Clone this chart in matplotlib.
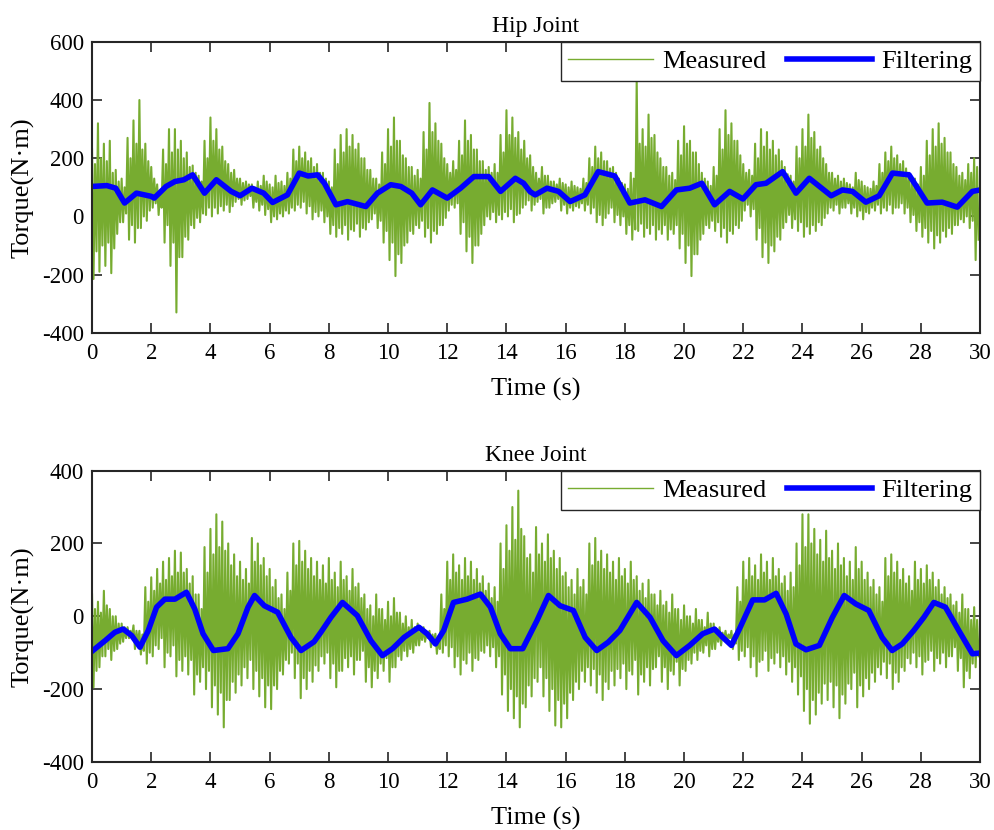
import numpy as np
import matplotlib
matplotlib.use('Agg')
import matplotlib.pyplot as plt

plt.rcParams['font.family'] = ['Liberation Serif', 'DejaVu Serif']
plt.rcParams['axes.unicode_minus'] = False

# measured torque, outer peak / trough per 0.2 s bin
hip_hi = [230, 320, 250, 260, 160, 130, 270, 330, 400, 250,
          170, 110, 230, 300, 300, 260, 220, 175, 140, 260,
          340, 300, 240, 180, 160, 130, 120, 110, 120, 140,
          110, 140, 120, 150, 230, 240, 220, 200, 180, 150,
          120, 230, 280, 300, 280, 250, 200, 160, 130, 220,
          300, 340, 260, 200, 170, 160, 290, 390, 320, 250,
          180, 190, 260, 330, 280, 230, 190, 170, 180, 280,
          365, 340, 290, 260, 210, 150, 170, 140, 120, 130,
          110, 120, 100, 130, 200, 240, 220, 190, 170, 130,
          110, 150, 470, 300, 350, 280, 200, 170, 150, 260,
          310, 260, 220, 150, 120, 170, 300, 365, 320, 260,
          180, 160, 250, 300, 290, 260, 230, 170, 140, 240,
          300, 350, 290, 240, 180, 150, 140, 130, 110, 150,
          120, 100, 120, 180, 220, 240, 210, 190, 150, 130,
          170, 260, 300, 320, 270, 220, 170, 150, 180, 200]
hip_lo = [-215, -190, -170, -195, -60, -20, -80, -90, -40, -15,
          30, 5, -90, -170, -330, -140, -80, -40, -20, 5,
          0, 10, 20, 15, 50, 40, 60, 30, 20, 5,
          -20, -10, 0, 10, 20, 30, 10, -10, 0, -20,
          -60, -70, -60, -80, -50, -70, -45, -10, -40, -90,
          -150, -205, -160, -90, -60, -40, -70, -90, -60, -30,
          20, 30, -60, -120, -160, -100, -30, -10, -20, -10,
          0, -20, 10, 40, 20, 50, 10, 30, 50, 20,
          10, 20, 30, 20, 10, -20, -30, 10, -20, -30,
          -60, -80, -50, -70, -60, -80, -60, -80, -60, -110,
          -160, -205, -130, -60, -40, -50, -70, -90, -60, -40,
          20, 0, -80, -140, -160, -120, -80, -20, -40, -50,
          -70, -60, -50, -30, 10, 20, 10, 30, 10, 0,
          -10, 10, 20, 10, 20, 10, 30, 10, -20, -50,
          -70, -90, -110, -90, -70, -60, -30, -20, -40, -150]

# dense core of the measured trace, peak / trough per 0.2 s bin
hip_hi2 = [180, 200, 190, 150, 120, 100, 200, 250, 230, 190,
           130, 90, 180, 220, 230, 200, 170, 150, 120, 200,
           260, 230, 190, 150, 130, 115, 110, 100, 105, 120,
           100, 115, 105, 130, 190, 200, 190, 170, 150, 130,
           100, 180, 220, 240, 230, 200, 160, 130, 110, 180,
           240, 260, 210, 170, 140, 130, 230, 290, 260, 200,
           150, 160, 210, 260, 230, 190, 160, 150, 150, 220,
           280, 270, 230, 200, 170, 130, 140, 120, 110, 115,
           100, 105, 95, 115, 170, 200, 190, 165, 150, 115,
           95, 130, 250, 240, 270, 220, 170, 140, 125, 210,
           250, 220, 180, 130, 105, 140, 230, 280, 260, 210,
           150, 140, 200, 240, 230, 210, 190, 145, 120, 200,
           240, 270, 230, 200, 150, 130, 120, 115, 100, 125,
           105, 95, 105, 150, 190, 200, 180, 165, 130, 110,
           140, 210, 240, 250, 220, 180, 140, 125, 150, 170]
hip_lo2 = [-120, -100, -90, -110, -20, 10, -30, -40, 0, 20,
           45, 30, -30, -90, -140, -70, -30, -5, 10, 30,
           30, 35, 40, 35, 60, 55, 70, 50, 40, 25,
           0, 10, 20, 30, 40, 50, 35, 15, 20, 0,
           -30, -40, -30, -45, -25, -40, -20, 10, -15, -50,
           -90, -130, -100, -50, -30, -15, -40, -50, -30, -5,
           40, 45, -20, -70, -100, -60, 0, 15, 5, 15,
           25, 5, 30, 55, 40, 60, 30, 45, 60, 40,
           30, 35, 45, 40, 30, 5, -5, 30, 5, 0,
           -30, -45, -25, -40, -30, -45, -30, -45, -30, -60,
           -100, -130, -80, -30, -15, -20, -40, -50, -30, -15,
           40, 25, -40, -90, -100, -70, -40, 5, -10, -20,
           -35, -30, -20, -5, 30, 40, 30, 45, 30, 20,
           15, 30, 40, 30, 40, 30, 45, 30, 5, -20,
           -40, -50, -65, -50, -40, -30, -10, 0, -15, -80]

knee_hi = [60, 40, 70, 20, 0, -20, -30, -25, -40, 80,
           107, 130, 150, 160, 180, 175, 130, 110, 60, 190,
           240, 280, 260, 200, 170, 150, 130, 215, 200, 160,
           130, 100, 60, 120, 200, 207, 180, 160, 150, 140,
           160, 120, 150, 110, 130, 90, 60, 30, 60, 20,
           40, 50, 10, 0, -10, -20, -30, -40, -48, 60,
           150, 170, 140, 160, 150, 130, 110, 90, 80, 200,
           250, 300, 345, 220, 170, 245, 200, 225, 180, 160,
           120, 100, 130, 100, 200, 215, 180, 170, 150, 160,
           130, 150, 110, 90, 100, 60, 70, 40, 60, 20,
           30, 0, 20, -10, 10, -20, -30, -40, -40, 80,
           150, 160, 140, 170, 150, 160, 130, 110, 120, 200,
           280, 280, 240, 210, 235, 180, 200, 160, 150, 190,
           150, 120, 100, 80, 160, 170, 150, 130, 110, 150,
           130, 140, 120, 100, 80, 60, 40, 60, 20, 25]
knee_lo = [-195, -140, -110, -120, -90, -70, -60, -90, -105, -130,
           -110, -90, -140, -110, -165, -150, -160, -215, -180, -200,
           -250, -270, -305, -230, -210, -190, -170, -200, -220, -250,
           -255, -200, -160, -130, -170, -225, -200, -180, -150, -130,
           -170, -195, -150, -140, -160, -120, -180, -195, -170, -150,
           -180, -140, -120, -110, -100, -80, -70, -85, -103, -100,
           -110, -140, -160, -130, -150, -120, -100, -110, -140, -215,
           -260, -280, -305, -250, -220, -180, -220, -260, -300, -305,
           -280, -230, -200, -180, -190, -210, -230, -200, -190, -170,
           -200, -160, -215, -180, -190, -140, -180, -200, -160, -190,
           -150, -130, -120, -100, -110, -90, -80, -70, -90, -120,
           -110, -140, -165, -120, -150, -130, -140, -160, -180, -215,
           -260, -295, -270, -240, -230, -250, -280, -240, -200, -250,
           -220, -200, -180, -160, -170, -200, -180, -150, -130, -140,
           -160, -120, -150, -130, -140, -110, -150, -195, -170, -140]

knee_hi2 = [20, 10, 30, 0, -20, -30, -40, -40, -50, 40,
            70, 90, 100, 110, 120, 120, 90, 60, 20, 120,
            170, 190, 180, 140, 110, 100, 90, 150, 140, 110,
            80, 50, 20, 70, 140, 150, 130, 110, 100, 90,
            100, 80, 100, 70, 80, 50, 20, 0, 20, -10,
            0, 10, -20, -30, -30, -40, -45, -50, -55, 20,
            100, 120, 100, 110, 100, 90, 70, 50, 40, 130,
            180, 210, 240, 160, 120, 170, 150, 160, 130, 110,
            80, 60, 80, 60, 140, 150, 130, 120, 100, 110,
            90, 100, 70, 50, 60, 30, 30, 10, 20, -10,
            0, -20, -10, -30, -20, -35, -45, -50, -50, 40,
            100, 110, 100, 120, 100, 110, 90, 70, 80, 140,
            190, 200, 170, 150, 160, 130, 140, 110, 100, 130,
            100, 80, 60, 40, 110, 120, 100, 90, 70, 100,
            90, 100, 80, 60, 50, 30, 10, 20, -10, -10]
knee_lo2 = [-150, -110, -90, -95, -75, -60, -55, -75, -95, -100,
            -80, -60, -100, -80, -120, -110, -120, -160, -140, -150,
            -190, -210, -230, -180, -160, -140, -120, -150, -170, -190,
            -190, -150, -120, -100, -130, -170, -150, -135, -110, -100,
            -130, -150, -115, -110, -120, -95, -140, -150, -130, -115,
            -140, -110, -95, -90, -80, -65, -60, -70, -90, -80,
            -85, -110, -120, -100, -115, -95, -80, -85, -110, -160,
            -200, -220, -240, -190, -170, -140, -170, -200, -230, -240,
            -210, -180, -150, -140, -145, -160, -180, -150, -145, -130,
            -150, -120, -160, -140, -145, -110, -140, -150, -125, -145,
            -120, -100, -95, -80, -90, -70, -65, -60, -75, -95,
            -85, -110, -125, -95, -115, -100, -110, -125, -140, -165,
            -200, -230, -210, -185, -180, -190, -215, -185, -155, -190,
            -170, -155, -140, -125, -130, -155, -140, -115, -100, -110,
            -125, -95, -115, -100, -110, -85, -115, -150, -130, -110]

# filtered torque (time, value)
hip_f_t = [0, 0.5, 0.8, 1.1, 1.5, 2.0, 2.1, 2.5, 2.8, 3.1, 3.4, 3.8, 4.2, 4.7,
           5.0, 5.4, 5.8, 6.1, 6.6, 7.0, 7.3, 7.62, 7.85, 8.24, 8.63, 9.25,
           9.64, 10.09, 10.43, 10.8, 11.1, 11.5, 12.0, 12.45, 12.9, 13.4, 13.8,
           14.3, 14.58, 14.8, 14.97, 15.37, 15.76, 16.15, 16.65, 17.1, 17.66,
           18.17, 18.68, 19.24, 19.74, 20.19, 20.6, 21.03, 21.54, 21.99, 22.43,
           22.77, 23.33, 23.78, 24.23, 24.97, 25.35, 25.69, 26.14, 26.59, 27.04,
           27.6, 28.21, 28.72, 29.23, 29.74, 30]
hip_f = [103, 106, 97, 46, 80, 69, 63, 103, 120, 126, 143, 80, 126, 86,
         71, 97, 80, 48, 74, 149, 139, 143, 114, 40, 51, 34,
         80, 109, 103, 80, 40, 91, 63, 97, 137, 137, 86,
         131, 114, 85, 74, 97, 86, 51, 74, 154, 139,
         46, 57, 34, 91, 97, 114, 40, 86, 60, 109,
         114, 154, 80, 131, 71, 91, 86, 49, 71, 149,
         143, 46, 49, 32, 86, 91]

knee_f_t = [0, 0.44, 0.77, 1.05, 1.34, 1.62, 1.9, 2.18, 2.46, 2.8, 3.19, 3.47,
            3.75, 4.1, 4.59, 4.93, 5.27, 5.49, 5.82, 6.27, 6.72, 7.06, 7.5,
            7.73, 8.07, 8.46, 8.96, 9.42, 9.81, 10.15, 10.54, 11.04, 11.32,
            11.6, 11.88, 12.21, 12.67, 13.12, 13.46, 13.79, 14.13, 14.55,
            15.03, 15.42, 15.81, 16.26, 16.66, 17.05, 17.44, 17.83, 18.4,
            18.85, 19.29, 19.74, 20.19, 20.63, 21.03, 21.31, 21.6, 21.87,
            22.32, 22.72, 23.11, 23.45, 23.78, 24.12, 24.57, 25.01, 25.41,
            25.8, 26.24, 26.69, 27.03, 27.37, 27.76, 28.1, 28.44, 28.83,
            29.28, 29.74, 30]
knee_f = [-96, -67, -44, -35, -53, -85, -39, 25, 47, 47, 66, 20,
          -48, -94, -89, -48, 25, 57, 29, 11, -58, -94, -70,
          -44, -3, 38, 2, -67, -108, -89, -58, -30, -48,
          -76, -39, 38, 47, 61, 25, -48, -89, -89,
          -12, 57, 29, 16, -58, -94, -71, -39, 38,
          -3, -67, -108, -80, -48, -35, -58, -80, -35,
          45, 45, 63, 6, -76, -92, -80, -3, 57,
          34, 16, -58, -94, -76, -39, -3, 38, 25,
          -39, -103, -101]

bin_t = np.arange(150) * 0.2

green = '#77AC30'
axc = '#262626'

fig = plt.figure(figsize=(9.95, 8.3), dpi=100)
ax1 = fig.add_axes([0.0925, 0.599, 0.8925, 0.3506])
ax2 = fig.add_axes([0.0925, 0.082, 0.8925, 0.351])

panels = [
    (ax1, hip_hi, hip_lo, hip_hi2, hip_lo2, hip_f_t, hip_f, 'Hip Joint',
     (-400, 600), np.arange(-400, 601, 200)),
    (ax2, knee_hi, knee_lo, knee_hi2, knee_lo2, knee_f_t, knee_f, 'Knee Joint',
     (-400, 400), np.arange(-400, 401, 200)),
]

for ax, hi, lo, hi2, lo2, ft, fv, title, ylim, yticks in panels:
    # interleave outer and core extremes of each bin into one measured trace
    mt = np.column_stack([bin_t, bin_t + 0.05, bin_t + 0.1, bin_t + 0.15]).ravel()
    mv = np.column_stack([hi, lo, hi2, lo2]).ravel()
    ax.plot(mt, mv, color=green, lw=1.5, label='Measured')
    ax.plot(ft, fv, color='blue', lw=4, label='Filtering', solid_joinstyle='round')
    ax.set_xlim(0, 30)
    ax.set_ylim(*ylim)
    ax.set_xticks(np.arange(0, 31, 2))
    ax.set_yticks(yticks)
    ax.tick_params(direction='in', length=7.5, width=1.2, labelsize=16.5, pad=7,
                   top=True, right=True, colors=axc, labelcolor='black')
    ax.tick_params(axis='y', pad=6)
    for s in ax.spines.values():
        s.set_linewidth(1.5)
        s.set_color(axc)
    ax.set_title(title, fontsize=17, pad=7)
    ax.set_xlabel('Time (s)', fontsize=19, labelpad=10)
    ax.set_ylabel('Torque(N·m)', fontsize=19, labelpad=5)
    leg = ax.legend(loc='upper right', ncol=2, fontsize=19, frameon=True,
                    fancybox=False, framealpha=1, edgecolor=axc,
                    borderaxespad=0, handlelength=3.2, columnspacing=0.8,
                    handletextpad=0.35, borderpad=0.3)
    leg.get_frame().set_linewidth(1.0)
    leg.get_lines()[0].set_linewidth(1.0)

fig.savefig('out.png', dpi=100)
